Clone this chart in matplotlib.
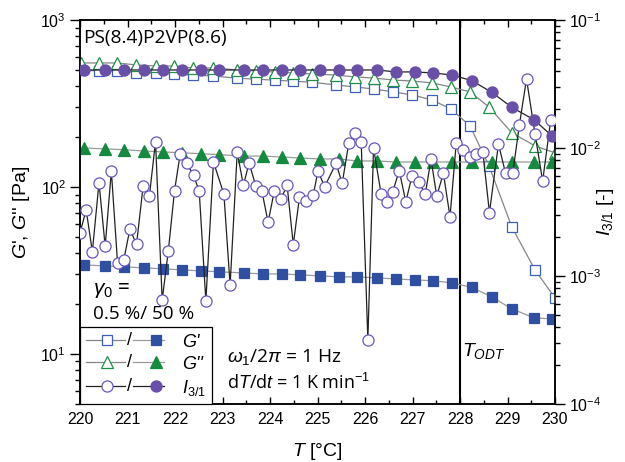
import numpy as np
import matplotlib
matplotlib.use("Agg")
import matplotlib.pyplot as plt
from matplotlib.lines import Line2D
from matplotlib.text import Text
from matplotlib.legend_handler import HandlerBase
from matplotlib.ticker import LogLocator, MultipleLocator, NullFormatter

plt.rcParams['font.family'] = ['Liberation Sans', 'DejaVu Sans']
plt.rcParams['mathtext.fontset'] = 'custom'
plt.rcParams['mathtext.rm'] = 'Liberation Sans'
plt.rcParams['mathtext.it'] = 'Liberation Sans:italic'
plt.rcParams['mathtext.bf'] = 'Liberation Sans:bold'

# ---------------- data ----------------
# gamma0 = 0.5 % (open symbols)
T_open = [220.02, 220.40, 220.78, 221.18, 221.60, 221.98, 222.38, 222.80, 223.31, 223.71,
          224.11, 224.48, 224.88, 225.39, 225.79, 226.19, 226.59, 226.99, 227.41, 227.81,
          228.21, 228.61, 229.09, 229.58, 230.00]
Gp_open = [502, 495, 495, 484, 480, 475, 468, 462, 448, 442,
           436, 430, 424, 408, 397, 386, 371, 356, 332, 293,
           232, 134, 57.6, 31.8, 21.6]
Gpp_open = [553, 553, 553, 538, 530, 530, 516, 516, 502, 495,
            488, 482, 475, 468, 456, 449, 437, 431, 420, 397,
            371, 301, 211, 176, 160]

T_I_open = [220.00, 220.13, 220.26, 220.40, 220.53, 220.66, 220.79, 220.92, 221.05, 221.19,
            221.33, 221.46, 221.59, 221.73, 221.86, 221.99, 222.11, 222.25, 222.39, 222.51,
            222.65, 222.81, 223.03, 223.16, 223.31, 223.44, 223.56, 223.70, 223.83, 223.96,
            224.09, 224.23, 224.36, 224.49, 224.62, 224.76, 224.91, 225.01, 225.15, 225.39,
            225.52, 225.66, 225.78, 225.92, 226.06, 226.18, 226.34, 226.46, 226.58, 226.72,
            226.86, 226.99, 227.13, 227.27, 227.39, 227.51, 227.65, 227.79, 227.92, 228.06,
            228.20, 228.34, 228.48, 228.62, 228.81, 228.96, 229.11, 229.25, 229.40, 229.58,
            229.74, 229.91]
I31_open = [0.00218, 0.00328, 0.00155, 0.00536, 0.00171, 0.00661, 0.00127, 0.00133, 0.00232, 0.00177,
            0.00507, 0.00420, 0.0112, 0.000649, 0.00158, 0.00464, 0.00902, 0.00759, 0.00612, 0.00459,
            0.000638, 0.00778, 0.00435, 0.000845, 0.00925, 0.00511, 0.00768, 0.00505, 0.00459, 0.00263,
            0.00461, 0.00400, 0.00511, 0.00176, 0.00412, 0.00384, 0.00430, 0.00661, 0.00499, 0.00759,
            0.00530, 0.01099, 0.01318, 0.01109, 0.000316, 0.00995, 0.00438, 0.00379, 0.00451, 0.00665,
            0.00379, 0.00608, 0.00542, 0.00438, 0.00817, 0.00422, 0.00634, 0.00290, 0.01088, 0.00964,
            0.00855, 0.00898, 0.00936, 0.00313, 0.01074, 0.00634, 0.00634, 0.01514, 0.0346, 0.01285,
            0.00552, 0.01655]

# gamma0 = 50 % (filled symbols)
T_fill = [220.08, 220.53, 220.93, 221.35, 221.75, 222.15, 222.55, 222.93, 223.45, 223.85,
          224.25, 224.63, 225.05, 225.45, 225.83, 226.25, 226.65, 227.05, 227.43, 227.83,
          228.25, 228.67, 229.09, 229.56, 229.94]
Gp_fill = [34.1, 33.6, 33.2, 32.7, 32.3, 31.8, 31.4, 31.0, 30.5, 30.1,
           30.1, 29.7, 29.3, 28.9, 28.9, 28.5, 28.1, 27.7, 27.4, 26.6,
           25.0, 21.9, 18.6, 16.4, 16.2]
Gpp_fill = [171, 169, 167, 164, 162, 160, 158, 156, 153, 153,
            151, 149, 147, 147, 143, 143, 141, 141, 141, 141,
            141, 141, 141, 141, 141]
I31_fill = [0.0407, 0.0407, 0.0407, 0.0407, 0.0407, 0.0407, 0.0407, 0.0407, 0.0407, 0.0407,
            0.0407, 0.0407, 0.0407, 0.0407, 0.0407, 0.0407, 0.0393, 0.0393, 0.0386, 0.0372,
            0.0336, 0.0272, 0.0208, 0.0166, 0.0124]

T_ODT = 228.0
x_ticks = [220, 221, 222, 223, 224, 225, 226, 227, 228, 229, 230]

# ---------------- style ----------------
BLUE_F = '#2f4fa3'
BLUE_O = '#3d5fbb'
GREEN_F = '#138a3e'
GREEN_O = '#1f9046'
PURP_F = '#6a4fa8'
PURP_O = '#6a55bb'
GRAY = '#858585'
DARK = '#222222'


class SlashHandler(HandlerBase):
    def create_artists(self, legend, orig_handle, xdescent, ydescent,
                       width, height, fontsize, trans):
        h_open, h_fill = orig_handle
        y = (height - ydescent) / 2.0
        x0 = -xdescent
        arts = []

        def seg(h, a, b, m):
            ln = Line2D([x0 + a * width, x0 + b * width], [y, y],
                        color=h.get_color(), lw=h.get_linewidth(), transform=trans)
            mk = Line2D([x0 + m * width], [y], ls='none', marker=h.get_marker(),
                        ms=h.get_markersize(), mfc=h.get_markerfacecolor(),
                        mec=h.get_markeredgecolor(), mew=h.get_markeredgewidth(),
                        transform=trans)
            return [ln, mk]

        arts += seg(h_open, 0.0, 0.50, 0.26)
        arts += seg(h_fill, 0.60, 1.0, 0.90)
        arts.append(Text(x0 + 0.55 * width, y, '/', ha='center', va='center',
                         fontsize=fontsize, transform=trans))
        return arts


fig = plt.figure(figsize=(6.25, 4.62), dpi=100)
ax = fig.add_axes([0.128, 0.1255, 0.76, 0.8312])
ax2 = ax.twinx()

ax.set_yscale('log')
ax2.set_yscale('log')

ms_sq, ms_tri, ms_c = 7.2, 8.2, 8.0
mew = 0.9

l_gp_o, = ax.plot(T_open, Gp_open, color=GRAY, lw=0.9, marker='s', ms=ms_sq,
                  mfc='white', mec=BLUE_O, mew=mew, zorder=3)
l_gpp_o, = ax.plot(T_open, Gpp_open, color=GRAY, lw=0.9, marker='^', ms=ms_tri,
                   mfc='white', mec=GREEN_O, mew=mew, zorder=3)
l_gp_f, = ax.plot(T_fill, Gp_fill, color='#9a9a9a', lw=0.9, marker='s', ms=ms_sq,
                  mfc=BLUE_F, mec=BLUE_F, mew=mew, zorder=3)
l_gpp_f, = ax.plot(T_fill, Gpp_fill, color='#9a9a9a', lw=0.9, marker='^', ms=ms_tri,
                   mfc=GREEN_F, mec=GREEN_F, mew=mew, zorder=3)

l_i_o, = ax2.plot(T_I_open, I31_open, color=DARK, lw=0.9, marker='o', ms=ms_c,
                  mfc='white', mec=PURP_O, mew=mew, zorder=3)
l_i_f, = ax2.plot(T_fill, I31_fill, color=DARK, lw=0.9, marker='o', ms=ms_c,
                  mfc=PURP_F, mec=PURP_F, mew=mew, zorder=4)

ax.axvline(T_ODT, color='black', lw=1.5, zorder=2)

ax.set_xlim(220, 230)
ax.set_ylim(5, 1000)
ax2.set_ylim(1e-4, 1e-1)

ax.set_xticks(x_ticks)
ax.xaxis.set_minor_locator(MultipleLocator(0.5))
for a in (ax, ax2):
    a.yaxis.set_major_locator(LogLocator(base=10, numticks=10))
    a.yaxis.set_minor_locator(LogLocator(base=10, subs=np.arange(2, 10), numticks=20))
    a.yaxis.set_minor_formatter(NullFormatter())

ax.tick_params(axis='x', which='both', direction='in', top=True, bottom=True,
               labelsize=11.5, pad=6, width=1.0)
ax.tick_params(axis='x', which='major', length=5)
ax.tick_params(axis='x', which='minor', length=3)
ax.tick_params(axis='y', which='both', direction='out', left=True, right=False,
               labelsize=11.5, width=1.0, pad=3)
ax.tick_params(axis='y', which='major', length=7)
ax.tick_params(axis='y', which='minor', length=3.5)
ax2.tick_params(axis='y', which='both', direction='out', right=True, left=False,
                labelsize=11.5, width=1.0, pad=3)
ax2.tick_params(axis='y', which='major', length=7)
ax2.tick_params(axis='y', which='minor', length=3.5)

for a in (ax, ax2):
    for s in a.spines.values():
        s.set_linewidth(1.1)

ax.set_xlabel(r'$T$ [°C]', fontsize=14, labelpad=10)
ax.set_ylabel(r"$G$', $G$'' [Pa]", fontsize=14)
ax.yaxis.set_label_coords(-0.10, 0.5)
ax2.set_ylabel(r'$I_{3/1}$ [-]', fontsize=14)
ax2.yaxis.set_label_coords(1.085, 0.5)

ax.text(0.006, 0.953, 'PS(8.4)P2VP(8.6)', transform=ax.transAxes, ha='left', va='center',
        fontsize=13.8, family='Open Sans')
ax.text(0.027, 0.297, r'$\gamma_0$ =', transform=ax.transAxes, ha='left', va='center',
        fontsize=15, family='Open Sans')
ax.text(0.027, 0.234, '0.5 %/ 50 %', transform=ax.transAxes, ha='left', va='center',
        fontsize=13.6, family='Open Sans')
ax.text(0.309, 0.122, r'$\omega_{\mathit{1}}$/2$\pi$ = 1 Hz', transform=ax.transAxes,
        ha='left', va='center', fontsize=13.8, family='Open Sans')
ax.text(0.309, 0.055, r'd$T$/d$t$ = 1 K min$^{-1}$', transform=ax.transAxes,
        ha='left', va='center', fontsize=13, family='Open Sans')
ax.text(0.804, 0.138, r'$T_{ODT}$', transform=ax.transAxes, ha='left', va='center',
        fontsize=14)

leg = ax2.legend([(l_gp_o, l_gp_f), (l_gpp_o, l_gpp_f), (l_i_o, l_i_f)],
                 ["G'", "G''", r'$I_{3/1}$'],
                 handler_map={tuple: SlashHandler()},
                 loc='lower left', bbox_to_anchor=(0, 0), borderaxespad=0,
                 fancybox=False, framealpha=1, edgecolor='black',
                 handlelength=4.3, handletextpad=1.0, labelspacing=0.28,
                 borderpad=0.35, prop={'size': 13, 'style': 'italic'})
leg.get_frame().set_linewidth(0.9)
leg.set_zorder(10)

fig.savefig('out.png', dpi=100)
